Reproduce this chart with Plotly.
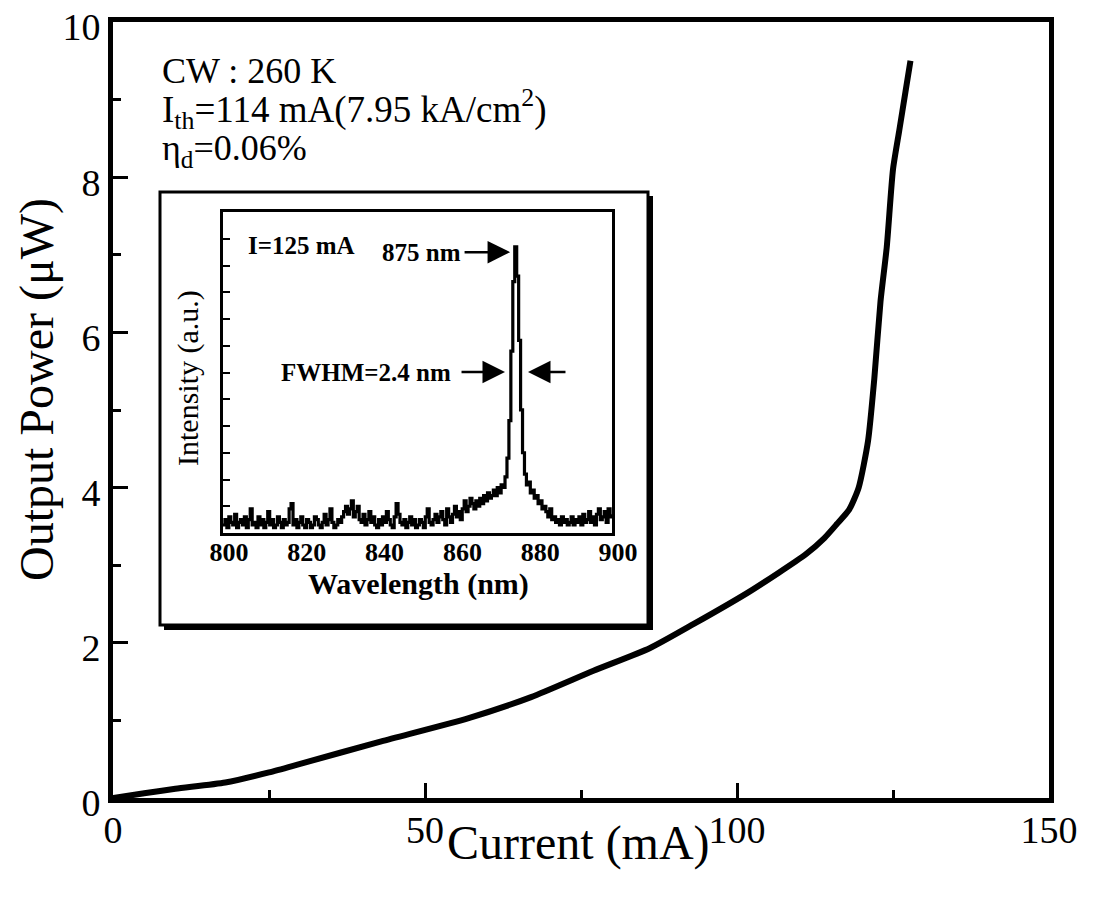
import plotly.graph_objects as go

# ---------------- data ----------------
current_mA = [0, 5, 10, 18, 25, 30, 43, 57, 67, 77, 86, 93, 102, 111, 114, 116,
              118, 119.5, 121, 122, 123, 124, 125, 126, 127, 127.8]
power_uW = [0, 0.06, 0.12, 0.2, 0.33, 0.44, 0.73, 1.03, 1.3, 1.64, 1.93, 2.24, 2.66,
            3.14, 3.35, 3.53, 3.72, 4.0, 4.6, 5.4, 6.4, 7.1, 8.1, 8.6, 9.1, 9.5]

x_ticks = [0, 50, 100, 150]
x_minor = [25, 75, 125]
y_ticks = [0, 2, 4, 6, 8, 10]

# inset spectrum, 0.5 nm sampling starting at 800 nm
intensity = [
    0.3, 0.5, 0.2, 0.6, 0.4, 0.3, 0.7, 0.2, 0.4, 0.5, 0.3, 0.6, 0.2, 0.5, 0.9, 0.3, 0.4, 0.2, 0.6, 0.3,
    0.5, 0.2, 0.4, 0.8, 0.3, 0.5, 0.2, 0.3, 0.6, 0.4, 0.2, 0.5, 0.3, 0.4, 0.9, 1.1, 0.3, 0.5, 0.2, 0.4,
    0.6, 0.3, 0.2, 0.5, 0.4, 0.2, 0.3, 0.6, 0.5, 0.3, 0.2, 0.4, 0.7, 0.3, 0.5, 0.9, 0.4, 0.2, 0.3, 0.5,
    0.4, 0.6, 0.8, 1.0, 0.7, 0.9, 1.2, 0.6, 0.8, 1.0, 0.5, 0.4, 0.7, 0.3, 0.5, 0.8, 0.4, 0.6, 0.3, 0.2,
    0.5, 0.3, 0.6, 0.4, 0.8, 0.5, 0.3, 0.2, 0.6, 1.1, 0.7, 0.4, 0.3, 0.5, 0.2, 0.4, 0.6, 0.3, 0.5, 0.2,
    0.3, 0.5, 0.4, 0.2, 0.6, 0.9, 0.4, 0.3, 0.5, 0.7, 0.4, 0.6, 0.8, 0.5, 0.3, 0.9, 0.6, 0.4, 0.7, 1.0,
    0.6, 0.8, 0.5, 0.9, 1.2, 0.8, 1.0, 1.3, 1.1, 0.9, 1.2, 1.0, 1.3, 1.1, 1.4, 1.2, 1.5, 1.3, 1.4, 1.6,
    1.4, 1.7, 1.5, 1.8, 1.7, 2.1, 2.8, 4.2, 6.8, 9.4, 10.7, 9.6, 7.2, 4.6, 3.0, 2.2, 1.8, 1.9, 1.5, 1.6,
    1.3, 1.4, 1.1, 1.2, 0.9, 1.0, 0.8, 0.6, 0.9, 0.5, 0.6, 0.4, 0.5, 0.3, 0.6, 0.4, 0.5, 0.3, 0.4, 0.6,
    0.3, 0.5, 0.4, 0.6, 0.3, 0.7, 0.4, 0.5, 0.8, 0.4, 0.6, 0.3, 0.7, 0.9, 0.5, 0.6, 0.8, 0.4, 0.9, 0.6, 0.7,
]
wavelength_nm = [800 + 0.5 * i for i in range(len(intensity))]
inset_x_ticks = [800, 820, 840, 860, 880, 900]

# ---------------- layout helpers (page pixel coordinates) ----------------
OFF = 8                      # default body margin of the html page
W, H = 1096 - OFF, 898 - OFF
L, R, T, B = 113, 1049, 22, 798   # plot area in page pixels


def px(x):
    return (x - L) / (R - L)


def py(y):
    return (B - y) / (B - T)


SERIF = "Liberation Serif, Times New Roman, serif"

fig = go.Figure()
fig.add_trace(go.Scatter(
    x=current_mA, y=power_uW, mode="lines",
    line=dict(color="black", width=6, shape="spline", smoothing=0.6),
    xaxis="x", yaxis="y", showlegend=False, hoverinfo="skip"))
fig.add_trace(go.Scatter(
    x=wavelength_nm, y=intensity, mode="lines",
    line=dict(color="black", width=3.2, shape="hv"),
    xaxis="x2", yaxis="y2", showlegend=False, hoverinfo="skip"))

axis_common = dict(showgrid=False, zeroline=False, showline=True, linecolor="black",
                   mirror=True, automargin=False, ticklabeloverflow="allow")

fig.update_layout(
    width=W, height=H,
    margin=dict(l=L - OFF, r=W - (R - OFF), t=T - OFF, b=H - (B - OFF), pad=0),
    paper_bgcolor="white", plot_bgcolor="rgba(0,0,0,0)",
    font=dict(family=SERIF, color="black"),
    xaxis=dict(domain=[0, 1], range=[0, 150], tickvals=x_ticks, ticks="inside",
               ticklen=15, tickwidth=3, tickcolor="black", linewidth=5,
               ticklabelstandoff=-6,
               tickfont=dict(family=SERIF, size=38, color="black"),
               minor=dict(tickvals=x_minor, ticks="inside", ticklen=8, tickwidth=3,
                          tickcolor="black"),
               anchor="y", **axis_common),
    yaxis=dict(domain=[0, 1], range=[0, 10], tickvals=y_ticks, ticks="inside",
               ticklen=15, tickwidth=3, tickcolor="black", linewidth=5,
               ticklabelshift=5,
               tickfont=dict(family=SERIF, size=38, color="black"),
               minor=dict(dtick=1, ticks="inside", ticklen=8, tickwidth=3,
                          tickcolor="black"),
               anchor="x", **axis_common),
    xaxis2=dict(domain=[px(223), px(612)], range=[800, 900], tickvals=inset_x_ticks,
                ticks="", linewidth=3, ticklabelshift=6, ticklabelstandoff=-6,
                tickfont=dict(family=SERIF, size=26, color="black", weight="bold"),
                anchor="y2", **axis_common),
    yaxis2=dict(domain=[py(533), py(212)], range=[0, 12], dtick=1, ticks="inside",
                ticklen=7, tickwidth=2, tickcolor="black", linewidth=3,
                showticklabels=False, anchor="x2", **axis_common),
)

# inset frame with drop shadow
fig.add_shape(type="rect", xref="paper", yref="paper", layer="below",
              x0=px(164), x1=px(653), y0=py(630), y1=py(196),
              fillcolor="black", line=dict(width=0))
fig.add_shape(type="rect", xref="paper", yref="paper", layer="below",
              x0=px(160), x1=px(648), y0=py(625), y1=py(192),
              fillcolor="white", line=dict(color="black", width=3))

ann = []


def text(t, x, y, size, xanchor="center", yanchor="middle", angle=0, bold=False,
         xref="paper", yref="paper"):
    f = dict(family=SERIF, size=size, color="black")
    if bold:
        f["weight"] = "bold"
    ann.append(dict(text=t, x=x, y=y, xref=xref, yref=yref, showarrow=False,
                    xanchor=xanchor, yanchor=yanchor, textangle=angle, font=f))


# main axis titles
text("Current (mA)", px(578), py(843), 48)
text("Output Power (μW)", px(37), py(390), 48, angle=-90)

# main annotations
text("CW : 260 K", px(160), py(71), 36, xanchor="left")
text("I<sub>th</sub>=114 mA(7.95 kA/cm<sup>2</sup>)", px(160), py(109), 37, xanchor="left")
text("η<sub>d</sub>=0.06%", px(160), py(151), 36, xanchor="left")

# inset titles
text("Wavelength (nm)", px(418), py(584), 30, bold=True)
text("Intensity (a.u.)", px(188), py(378), 30, angle=-90)

# inset annotations
text("I=125 mA", 806.0, 10.75, 25, xanchor="left", bold=True, xref="x2", yref="y2")
text("875 nm", 861.7, 10.5, 25, xanchor="right", bold=True, xref="x2", yref="y2")
text("FWHM=2.4 nm", 859.1, 6.0, 25, xanchor="right", bold=True, xref="x2", yref="y2")


def arrow(x, y, ax):
    ann.append(dict(text="", x=x, y=y, xref="x2", yref="y2", ax=ax, ay=0,
                    showarrow=True, arrowhead=2, arrowsize=1.8, arrowwidth=2.5,
                    arrowcolor="black", standoff=0, startstandoff=0))


arrow(873.8, 10.5, -47)
arrow(872.5, 6.02, -45)
arrow(878.4, 6.02, 39)

fig.update_layout(annotations=ann)
fig.write_html("out.html")
